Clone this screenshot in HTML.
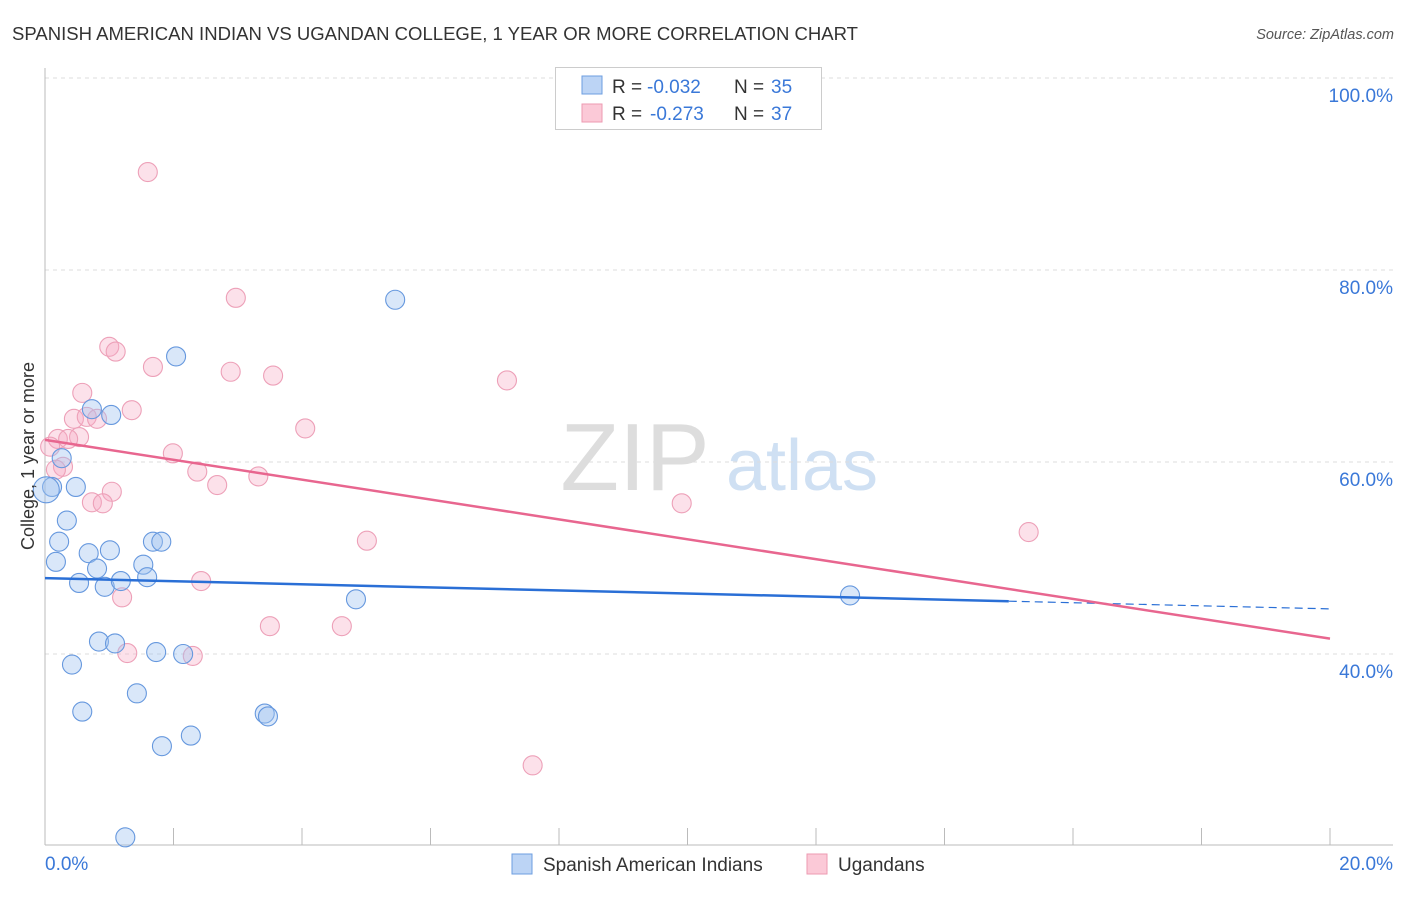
<!DOCTYPE html>
<html><head><meta charset="utf-8"><style>
body{margin:0;background:#fff;font-family:"Liberation Sans",sans-serif;}
svg text{font-family:"Liberation Sans",sans-serif;}
</style></head><body>
<svg id="chart" width="1406" height="892" xmlns="http://www.w3.org/2000/svg">
<text x="12" y="40" font-size="18" fill="#333" textLength="846" lengthAdjust="spacingAndGlyphs">SPANISH AMERICAN INDIAN VS UGANDAN COLLEGE, 1 YEAR OR MORE CORRELATION CHART</text>
<text x="1394" y="39" font-size="14.5" fill="#555" font-style="italic" text-anchor="end">Source: ZipAtlas.com</text>
<g>
<text x="635" y="490" font-size="96" font-family="Liberation Serif" fill="#ddd" text-anchor="middle">ZIP</text>
<text x="802" y="490" font-size="72" fill="#cfe0f3" text-anchor="middle">atlas</text>
</g>
<g id="grid"></g><g id="axes"></g><g id="marks"></g>
<text transform="translate(34,456) rotate(-90)" font-size="18" fill="#333" text-anchor="middle">College, 1 year or more</text>
<g>
<rect x="555.5" y="67.5" width="266" height="62" fill="#fff" stroke="#ccc"/>
<rect x="582" y="76" width="20" height="18" fill="#bcd4f5" stroke="#6d9ee0"/>
<text x="612" y="93" font-size="19" fill="#333">R =</text>
<text x="647" y="93" font-size="19" fill="#3a78d8">-0.032</text>
<text x="734" y="93" font-size="19" fill="#333">N =</text>
<text x="771" y="93" font-size="19" fill="#3a78d8">35</text>
<rect x="582" y="104" width="20" height="18" fill="#fbc9d7" stroke="#ec9ab2"/>
<text x="612" y="120" font-size="19" fill="#333">R =</text>
<text x="650" y="120" font-size="19" fill="#3a78d8">-0.273</text>
<text x="734" y="120" font-size="19" fill="#333">N =</text>
<text x="771" y="120" font-size="19" fill="#3a78d8">37</text>
</g>
<g>
<rect x="512" y="854" width="20" height="20" fill="#bcd4f5" stroke="#6d9ee0"/>
<text x="543" y="871" font-size="19" fill="#333">Spanish American Indians</text>
<rect x="807" y="854" width="20" height="20" fill="#fbc9d7" stroke="#ec9ab2"/>
<text x="838" y="871" font-size="19" fill="#333">Ugandans</text>
</g>
</svg>
<script>
const yTicks=[40,60,80,100];
const yTickLabels=["40.0%","60.0%","80.0%","100.0%"];
const xTickLabels=["0.0%","20.0%"];
const blueX=[0.11,0.26,0.48,0.73,1.03,2.04,5.45,0.34,0.22,0.17,0.68,1.01,1.68,1.81,0.81,1.53,1.59,0.53,0.93,1.18,0.84,1.09,0.42,1.73,2.15,1.43,0.58,1.82,2.27,3.42,3.47,1.25,4.84,12.53];
const blueY=[57.4,60.4,57.4,65.5,64.9,71.0,76.9,53.9,51.7,49.6,50.5,50.8,51.7,51.7,48.9,49.3,48.0,47.4,47.0,47.6,41.3,41.1,38.9,40.2,40.0,35.9,34.0,30.4,31.5,33.8,33.5,20.9,45.7,46.1];
const pinkX=[1.0,1.1,1.68,2.89,3.55,0.58,1.35,0.45,0.65,0.81,0.53,0.2,0.36,0.08,0.28,0.17,1.99,2.37,2.68,3.32,1.04,0.73,0.9,4.05,2.43,1.2,3.5,1.28,2.3,1.6,2.97,7.19,9.91,15.31,5.01,4.62,7.59];
const pinkY=[72.0,71.5,69.9,69.4,69.0,67.2,65.4,64.5,64.7,64.5,62.6,62.4,62.4,61.6,59.5,59.2,60.9,59.0,57.6,58.5,56.9,55.8,55.7,63.5,47.6,45.9,42.9,40.1,39.8,90.2,77.1,68.5,55.7,52.7,51.8,42.9,28.4];
const blueTrend=[47.9,44.7];
const pinkTrend=[62.3,41.6];
const NS="http://www.w3.org/2000/svg";
function sx(v){return 45+v/20*1285;}
function sy(v){return 654-(v-40)/20*192;}
function mk(tag,attrs,parent){const e=document.createElementNS(NS,tag);for(const k in attrs)e.setAttribute(k,attrs[k]);parent.appendChild(e);return e;}
const grid=document.getElementById('grid'),axes=document.getElementById('axes'),marks=document.getElementById('marks');
yTicks.forEach((t,i)=>{
 const l=mk('line',{x1:45,x2:1393,y1:sy(t),y2:sy(t),stroke:'#ddd','stroke-dasharray':'4,4'},grid);
 
 
 const tx=mk('text',{x:1393,y:sy(t)+24,'font-size':19,fill:'#3a78d8','text-anchor':'end'},axes);
 tx.textContent=yTickLabels[i];
 
 
});
mk('line',{x1:45,x2:45,y1:68,y2:845,stroke:'#bbb'},axes);
mk('line',{x1:45,x2:1393,y1:845,y2:845,stroke:'#bbb'},axes);
for(let i=1;i<=10;i++){mk('line',{x1:sx(i*2),x2:sx(i*2),y1:828,y2:845,stroke:'#bbb'},axes);}
const xl0=mk('text',{x:45,y:870,'font-size':19,fill:'#3a78d8'},axes);xl0.textContent=xTickLabels[0];


const xl1=mk('text',{x:1393,y:870,'font-size':19,fill:'#3a78d8','text-anchor':'end'},axes);xl1.textContent=xTickLabels[1];


pinkX.forEach((x,i)=>{
 const c=mk('circle',{cx:sx(x),cy:sy(pinkY[i]),r:9.5,fill:'rgba(245,170,195,0.35)',stroke:'#eda0b8','stroke-width':1.1},marks);
 
 
});
blueX.forEach((x,i)=>{
 const c=mk('circle',{cx:sx(x),cy:sy(blueY[i]),r:9.5,fill:'rgba(160,195,240,0.4)',stroke:'#6698de','stroke-width':1.1},marks);
 
 
});
const big=mk('circle',{cx:sx(0.02),cy:sy(57.1),r:13,fill:'rgba(160,195,240,0.4)',stroke:'#6698de','stroke-width':1.1},marks);


const bMid=blueTrend[0]+(blueTrend[1]-blueTrend[0])*15/20;
const bt=mk('line',{x1:sx(0),y1:sy(blueTrend[0]),x2:sx(15),y2:sy(bMid),stroke:'#2a6fd6','stroke-width':2.5},marks);


const bd=mk('line',{x1:sx(15),y1:sy(bMid),x2:sx(20),y2:sy(blueTrend[1]),stroke:'#2a6fd6','stroke-width':1.2,'stroke-dasharray':'8,5'},marks);


const pt=mk('line',{x1:sx(0),y1:sy(pinkTrend[0]),x2:sx(20),y2:sy(pinkTrend[1]),stroke:'#e8668f','stroke-width':2.5},marks);


</script>
</body></html>
